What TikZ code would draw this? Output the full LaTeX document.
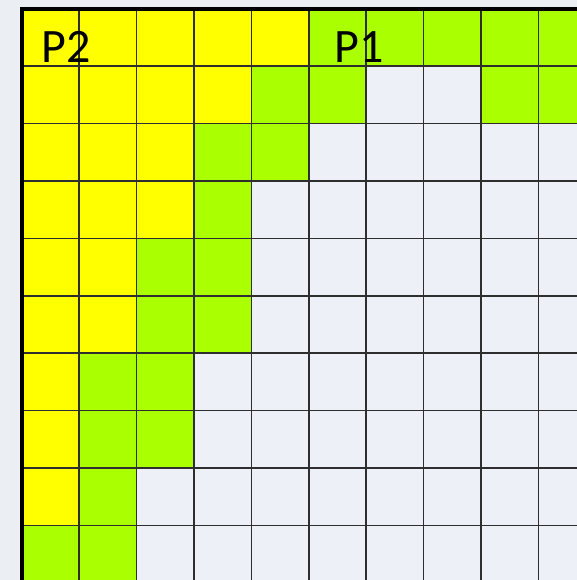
\documentclass[tikz,border=0pt]{standalone}
\usepackage{fontspec}
\setmainfont{Carlito}
\definecolor{cY}{HTML}{FFFF00}
\definecolor{cG}{HTML}{AAFF00}
\definecolor{cW}{HTML}{EDF0F7}
\definecolor{bgc}{HTML}{EBEEF3}
\definecolor{gridc}{HTML}{2E2E2E}
\begin{document}
\begin{tikzpicture}[x=0.5pt,y=-0.5pt,
  cell/.style={draw=none},
  gline/.style={draw=gridc,line width=0.8pt},
  border/.style={draw=black,line width=2pt},
  lbl/.style={anchor=base west,inner sep=0pt,font=\fontsize{24}{28}\selectfont}]
\useasboundingbox (0,0) rectangle (577,580);
\fill[bgc] (0,0) rectangle (577,580);
\begin{scope}
\clip (0,0) rectangle (577,580);
\def\ox{21.5}\def\oy{8.5}\def\s{57.45}
\foreach \rowlist [count=\r from 0] in {
  {Y,Y,Y,Y,Y,G,G,G,G,G},
  {Y,Y,Y,Y,G,G,W,W,G,G},
  {Y,Y,Y,G,G,W,W,W,W,W},
  {Y,Y,Y,G,W,W,W,W,W,W},
  {Y,Y,G,G,W,W,W,W,W,W},
  {Y,Y,G,G,W,W,W,W,W,W},
  {Y,G,G,W,W,W,W,W,W,W},
  {Y,G,G,W,W,W,W,W,W,W},
  {Y,G,W,W,W,W,W,W,W,W},
  {G,G,W,W,W,W,W,W,W,W}}{
  \foreach \c [count=\k from 0] in \rowlist {
    \fill[c\c] ({\ox+\k*\s},{\oy+\r*\s}) rectangle ({\ox+(\k+1)*\s},{\oy+(\r+1)*\s});
  }
}
\foreach \k in {1,...,10} {
  \draw[gline] ({\ox+\k*\s},\oy) -- ({\ox+\k*\s},600);
  \draw[gline] (\ox,{\oy+\k*\s}) -- (600,{\oy+\k*\s});
}
\draw[border] (\ox,600) -- (\ox,\oy) -- (600,\oy);
\end{scope}
\node[lbl] (p2) at (41,62) {P2};
\node[lbl] (p1) at (334,62) {P1};
\end{tikzpicture}
\end{document}
